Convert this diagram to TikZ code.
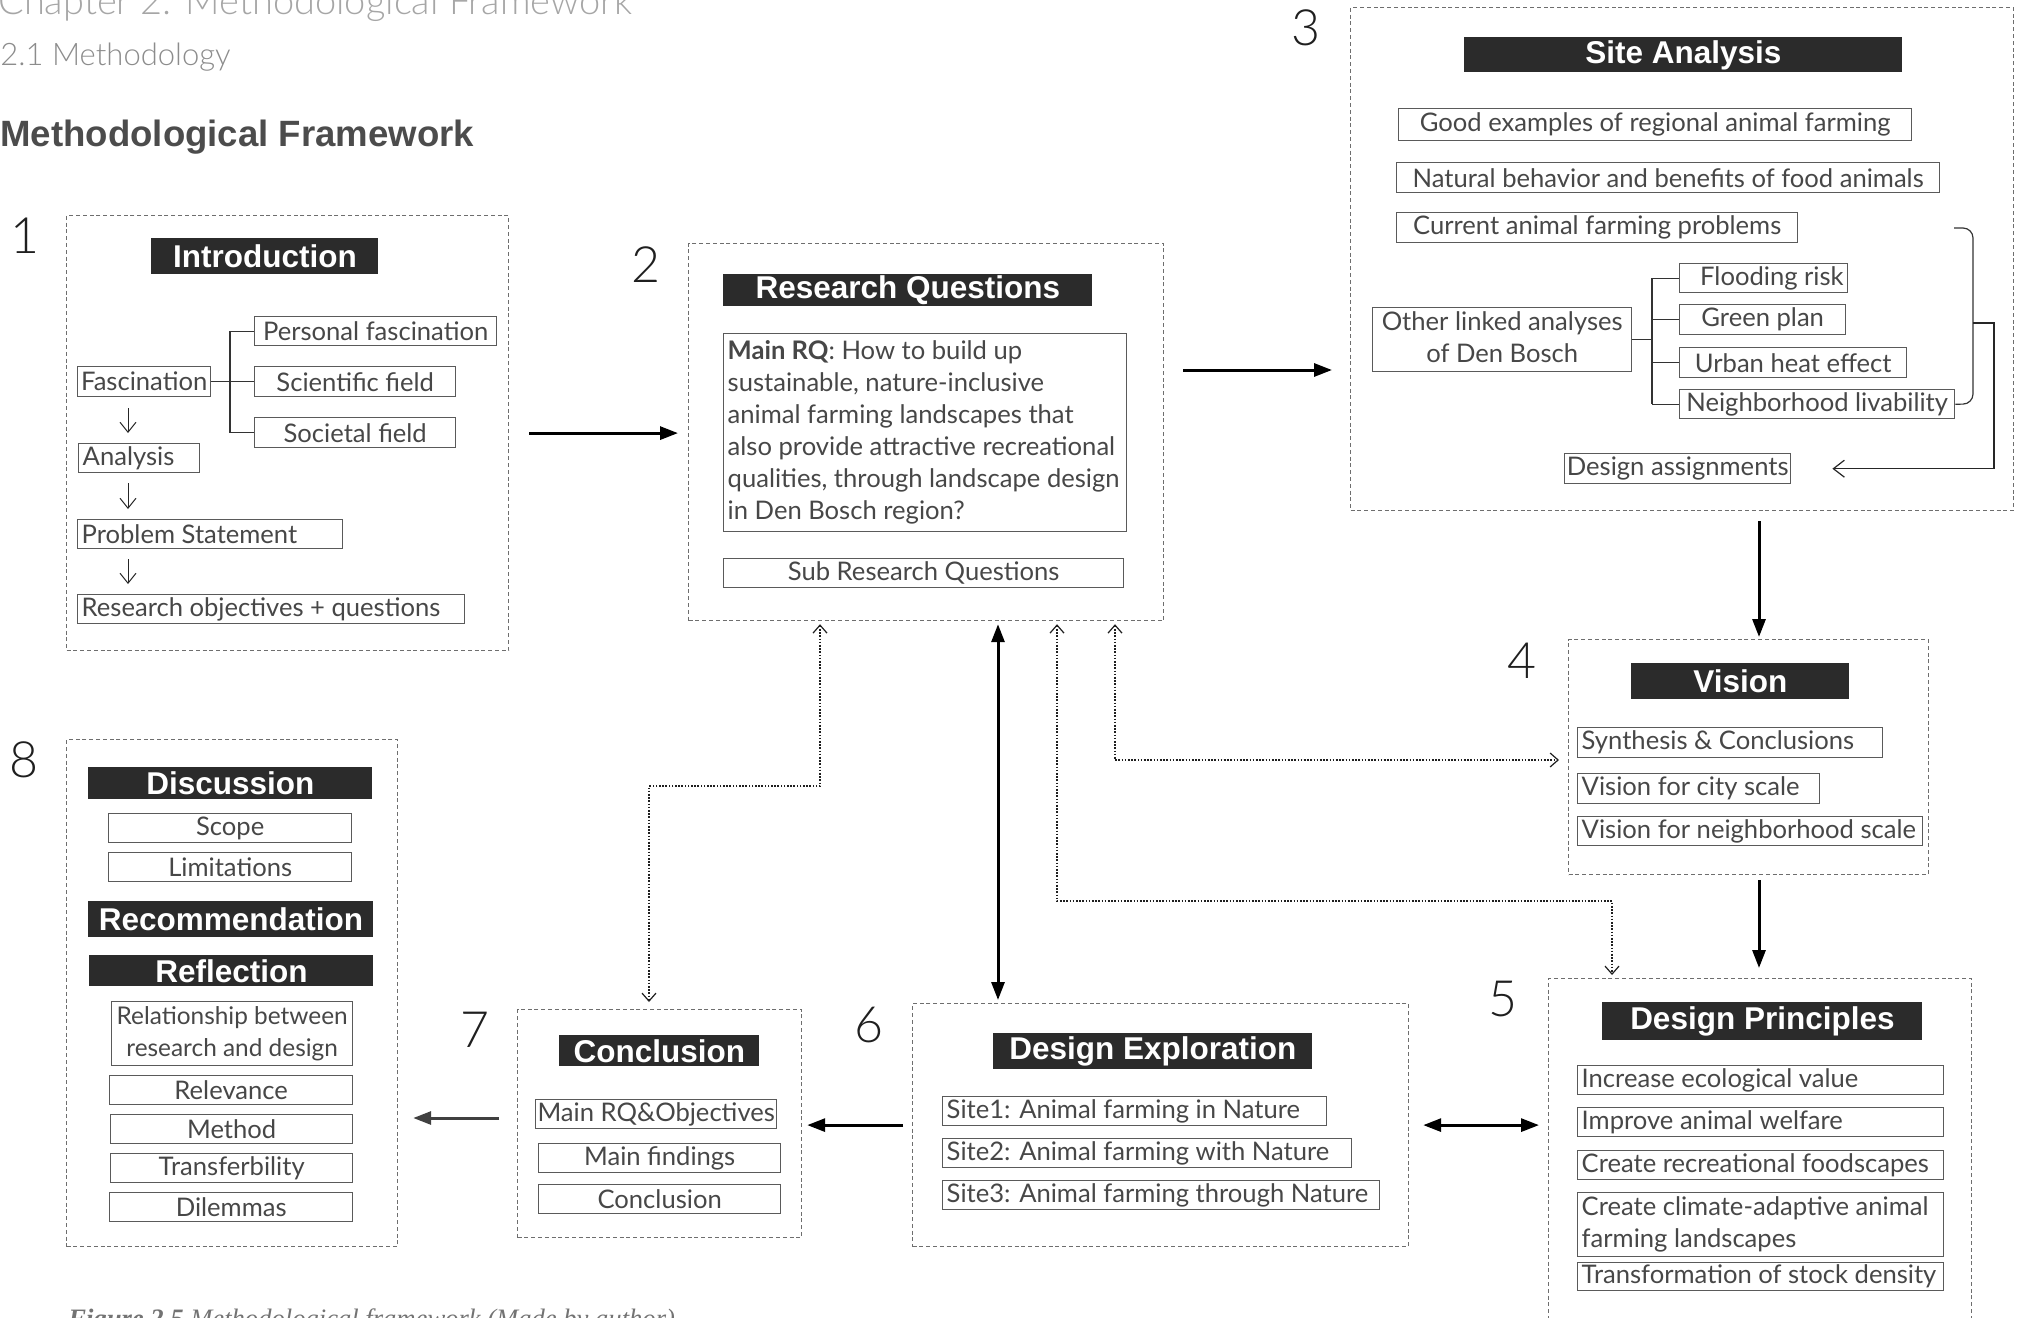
\documentclass[tikz,border=0pt]{standalone}
\usepackage{fontspec}
\setmainfont{Lato}
\newfontfamily\hdrfont{Liberation Sans}
\newfontfamily\capfont{Liberation Serif}
\IfFontExistsTF{Lato Light}{\newfontfamily\lightfont{Lato Light}}{\newfontfamily\lightfont{Lato}}
\usetikzlibrary{arrows.meta,calc}
\definecolor{txt}{HTML}{474747}
\definecolor{boxgray}{HTML}{5A5A5A}
\definecolor{dashgray}{HTML}{6E6E6E}
\definecolor{hdrfill}{HTML}{2B2B2B}
\newcommand\bodyfont{\fontsize{12.8pt}{16pt}\selectfont}
\newcommand\rqfont{\fontsize{12.8pt}{16pt}\selectfont}
% \mkbox[align]{style}{name}{x1}{y1}{x2}{y2}{text}
\newcommand\mkbox[8][c]{%
  \pgfmathsetlengthmacro\bxw{(#6-#4)*0.5pt}%
  \pgfmathsetlengthmacro\bxh{(#7-#5)*0.5pt}%
  \pgfmathsetlengthmacro\bxt{(#6-#4)*0.5pt-4pt}%
  \node[#2, anchor=north west, minimum width=\bxw, minimum height=\bxh] (#3) at (#4,#5) {\makebox[\bxt][#1]{#8}};}
\begin{document}
\begin{tikzpicture}[x=0.5pt,y=-0.5pt,
  outer/.style={draw=dashgray, line width=0.6pt, dash pattern=on 2pt off 1.4pt, inner xsep=2pt, inner ysep=0pt},
  pb/.style={draw=boxgray, line width=0.7pt, inner xsep=2pt, inner ysep=0pt, text=txt, font=\bodyfont},
  hdr/.style={fill=hdrfill, inner xsep=2pt, inner ysep=0pt, text=white, font=\hdrfont\bfseries\fontsize{15.75pt}{18pt}\selectfont},
  num/.style={font=\lightfont\fontsize{25pt}{30pt}\selectfont, text=black!88, inner sep=0pt},
  solidarr/.style={line width=1.5pt, draw=black, -{Triangle[length=9pt,width=6.5pt]}},
  solidboth/.style={line width=1.5pt, draw=black, {Triangle[length=9pt,width=6.5pt]}-{Triangle[length=9pt,width=6.5pt]}},
  dotarr/.style={line width=1pt, draw=black!88, dash pattern=on 0.8pt off 0.8pt, {Straight Barb[length=4pt,width=7pt,line width=0.6pt]}-{Straight Barb[length=4pt,width=7pt,line width=0.6pt]}},
  thinarr/.style={line width=0.5pt, draw=black!85, -{Straight Barb[length=5pt,width=8pt]}},
  brk/.style={line width=0.6pt, draw=black!80}]
\useasboundingbox (0,0) rectangle (2018,1317);

% titles
\node[anchor=base west, font=\lightfont\fontsize{19pt}{22pt}\selectfont, text=black!35, inner sep=0pt] (chap) at (-2,14) {Chapter 2: Methodological Framework};
\node[anchor=base west, font=\lightfont\fontsize{15.5pt}{18pt}\selectfont, text=black!45, inner sep=0pt] (sec) at (0,65) {2.1 Methodology};
\node[anchor=base west, font=\hdrfont\bfseries\fontsize{18.3pt}{21pt}\selectfont, text=black!70, inner sep=0pt] (ttl) at (0,146) {Methodological Framework};
\node[anchor=base west, font=\capfont\itshape\fontsize{13.3pt}{16pt}\selectfont, text=black!55, inner sep=0pt] (capt) at (68,1327) {\textbf{Figure 2.5} Methodological framework (Made by author)};

% outer boxes
\mkbox{outer}{B1}{66}{215}{508}{650}{}
\mkbox{outer}{B2}{688}{243}{1163}{620}{}
\mkbox{outer}{B3}{1350}{7}{2013}{510}{}
\mkbox{outer}{B4}{1568}{639}{1928}{874}{}
\mkbox{outer}{B5}{1548}{978}{1971}{1345}{}
\mkbox{outer}{B6}{912}{1003}{1408}{1246}{}
\mkbox{outer}{B7}{517}{1009}{801}{1237}{}
\mkbox{outer}{B8}{66}{739}{397}{1246}{}

% numbers
\node[num] (n1) at (25,236) {1};
\node[num] (n2) at (646,265) {2};
\node[num] (n3) at (1306,28) {3};
\node[num] (n4) at (1522,661) {4};
\node[num] (n5) at (1503,999) {5};
\node[num] (n6) at (869,1025) {6};
\node[num] (n7) at (475,1030) {7};
\node[num] (n8) at (24,760) {8};

% 1 Introduction
\mkbox{hdr}{h1}{151}{238}{378}{274}{Introduction}
\mkbox{pb}{pf}{254}{316}{496}{345}{Personal fascination}
\mkbox{pb}{sf}{254}{366}{455}{396}{Scientific field}
\mkbox{pb}{soc}{254}{417}{455}{447}{Societal field}
\mkbox{pb}{fasc}{77}{366}{210}{396}{Fascination}
\mkbox[l]{pb}{anal}{78}{443}{199}{472}{Analysis}
\mkbox[l]{pb}{prob}{77}{519}{342}{548}{Problem Statement}
\mkbox[l]{pb}{robj}{77}{594}{464}{623}{Research objectives + questions}
\draw[brk] (fasc.east) -- (sf.west);
\draw[brk] ([xshift=-12pt]pf.west) -- (pf.west);
\draw[brk] ([xshift=-12pt]soc.west) -- (soc.west);
\draw[brk] ([xshift=-12pt]pf.west) -- ([xshift=-12pt]soc.west);
\coordinate (ax) at (128,0);
\draw[thinarr, shorten <=5.5pt, shorten >=5pt] (fasc.south -| ax) -- (anal.north -| ax);
\draw[thinarr, shorten <=5pt, shorten >=5pt] (anal.south -| ax) -- (prob.north -| ax);
\draw[thinarr, shorten <=5pt, shorten >=5pt] (prob.south -| ax) -- (robj.north -| ax);

% 2 Research questions
\mkbox{hdr}{h2}{723}{274}{1092}{306}{Research Questions}
\mkbox[l]{pb, font=\rqfont}{mrq}{723}{333}{1126}{531}{\begin{tabular}{@{}l@{}}\textbf{Main RQ}: How to build up\\sustainable, nature-inclusive\\animal farming landscapes that\\also provide attractive recreational\\qualities, through landscape design\\in Den Bosch region?\end{tabular}}
\mkbox{pb}{srq}{723}{558}{1123}{587}{Sub Research Questions}

% 3 Site analysis
\mkbox{hdr}{h3}{1464}{37}{1902}{72}{Site Analysis}
\mkbox{pb}{ge}{1398}{108}{1911}{140}{Good examples of regional animal farming}
\mkbox{pb}{nb}{1396}{162}{1939}{192}{Natural behavior and benefits of food animals}
\mkbox{pb}{cu}{1396}{212}{1797}{242}{Current animal farming problems}
\mkbox{pb}{ol}{1372}{307}{1631}{371}{\begin{tabular}{@{}c@{}}Other linked analyses\\of Den Bosch\end{tabular}}
\mkbox[r]{pb}{fl}{1679}{263}{1847}{292}{Flooding risk}
\mkbox{pb}{gp}{1679}{304}{1845}{334}{Green plan}
\mkbox{pb}{uh}{1679}{347}{1906}{377}{Urban heat effect}
\mkbox{pb}{nl}{1679}{389}{1954}{418}{Neighborhood livability}
\mkbox{pb}{da}{1564}{453}{1790}{483}{Design assignments}
\draw[brk] (ol.east) -- ([xshift=-13.5pt]uh.west |- ol.east);
\draw[brk] ([xshift=-13.5pt]fl.west) -- ([xshift=-13.5pt]nl.west);
\foreach \b in {fl,gp,uh,nl}{\draw[brk] ([xshift=-13.5pt]\b.west) -- (\b.west);}
\coordinate (bt) at (1954,228);
\coordinate (bm) at (1973,323);
\draw[brk, rounded corners=5pt] (bt) -- (1973,228) -- (1973,404) -- (nl.east);
\draw[thinarr, line width=0.6pt, -{Straight Barb[length=5.5pt,width=8.5pt]}, shorten >=20.5pt] (bm) -- ++(21,0) |- (da.east);

% 4 Vision
\mkbox{hdr}{h4}{1631}{663}{1849}{699}{Vision}
\mkbox[l]{pb}{sc}{1577}{727}{1882}{757}{Synthesis \& Conclusions}
\mkbox[l]{pb}{vc}{1577}{773}{1819}{803}{Vision for city scale}
\mkbox[l]{pb}{vn}{1577}{816}{1922}{845}{Vision for neighborhood scale}

% 5 Design principles
\mkbox{hdr}{h5}{1602}{1002}{1922}{1040}{Design Principles}
\mkbox[l]{pb}{p1}{1577}{1065}{1943}{1094}{Increase ecological value}
\mkbox[l]{pb}{p2}{1577}{1107}{1943}{1136}{Improve animal welfare}
\mkbox[l]{pb}{p3}{1577}{1150}{1943}{1179}{Create recreational foodscapes}
\mkbox[l]{pb}{p4}{1577}{1192}{1943}{1249}{\begin{tabular}{@{}l@{}}Create climate-adaptive animal\\farming landscapes\end{tabular}}
\mkbox[l]{pb}{p5}{1577}{1262}{1943}{1290}{Transformation of stock density}

% 6 Design exploration
\mkbox{hdr}{h6}{993}{1033}{1312}{1069}{Design Exploration}
\mkbox[l]{pb}{s1}{942}{1096}{1326}{1125}{Site1: Animal farming in Nature}
\mkbox[l]{pb}{s2}{942}{1138}{1351}{1167}{Site2: Animal farming with Nature}
\mkbox[l]{pb}{s3}{942}{1180}{1379}{1209}{Site3: Animal farming through Nature}

% 7 Conclusion
\mkbox{hdr}{h7}{559}{1035}{759}{1066}{Conclusion}
\mkbox{pb}{c1}{535}{1099}{776}{1128}{Main RQ\&Objectives}
\mkbox{pb}{c2}{538}{1143}{780}{1172}{Main findings}
\mkbox{pb}{c3}{538}{1184}{780}{1213}{Conclusion}

% 8 Discussion
\mkbox{hdr}{h8a}{88}{767}{372}{799}{Discussion}
\mkbox{pb}{scope}{108}{813}{351}{842}{Scope}
\mkbox{pb}{lim}{108}{852}{351}{881}{Limitations}
\mkbox{hdr}{h8b}{88}{901}{373}{937}{Recommendation}
\mkbox{hdr}{h8c}{89}{955}{373}{986}{Reflection}
\mkbox{pb, font=\fontsize{12.2pt}{16pt}\selectfont}{rel}{111}{1001}{352}{1064}{\begin{tabular}{@{}c@{}}Relationship between\\research and design\end{tabular}}
\mkbox{pb}{relv}{109}{1075}{352}{1104}{Relevance}
\mkbox{pb}{meth}{110}{1114}{352}{1143}{Method}
\mkbox{pb}{tran}{110}{1153}{352}{1182}{Transferbility}
\mkbox{pb}{dil}{109}{1192}{352}{1221}{Dilemmas}

% main connectors
\draw[solidarr, shorten <=10pt, shorten >=5pt] (B1.east) -- (B2.west |- B1.east);
\draw[solidarr, shorten <=9.5pt, shorten >=9pt] (B2.east |- 0,370) -- (B3.west |- 0,370);
\draw[solidarr, shorten <=5pt, shorten >=1pt] (B3.south -| 1759,0) -- (B4.north -| 1759,0);
\draw[solidarr, shorten <=2.5pt, shorten >=5pt] (B4.south -| 1759,0) -- (B5.north -| 1759,0);
\draw[solidboth, shorten <=1.5pt, shorten >=1.5pt] (B2.south -| 998,0) -- (B6.north -| 998,0);
\draw[solidboth, shorten <=7pt, shorten >=4.5pt] (B6.east) -- (B5.west |- B6.east);
\draw[solidarr, shorten <=4.5pt, shorten >=2.5pt] (B6.west) -- (B7.east |- B6.west);
\draw[solidarr, draw=black!75, shorten <=9pt, shorten >=7.5pt] (B7.west |- 0,1118) -- (B8.east |- 0,1118);

% dotted connectors
\draw[dotarr, shorten <=1.5pt, shorten >=3.5pt] (B2.south -| 820,0) -- ++(0,165) -| (B7.north -| 649,0);
\draw[dotarr, shorten <=1.5pt, shorten >=4.5pt] (B2.south -| 1115,0) |- (B4.west |- 0,760);
\draw[dotarr, shorten <=1.5pt, shorten >=1.5pt] (B2.south -| 1057,0) -- ++(0,280) -| (B5.north -| 1612,0);
\end{tikzpicture}
\end{document}
